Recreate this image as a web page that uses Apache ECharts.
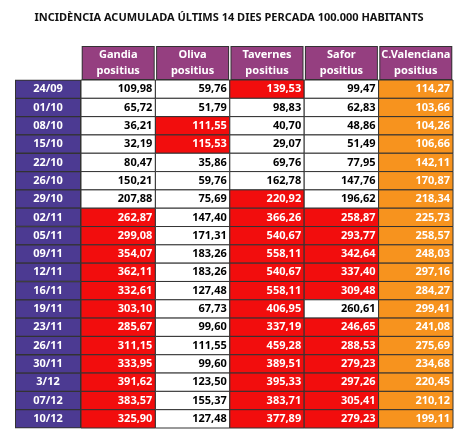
<!DOCTYPE html>
<html>
<head>
<meta charset="utf-8">
<script src="https://cdn.jsdelivr.net/npm/echarts@6/dist/echarts.min.js"></script>
<style>html,body{margin:0;padding:0;background:#fff}#main{width:463px;height:434px}</style>
</head>
<body>
<div id="main"></div>
<script>
var dates = ['24/09','01/10','08/10','15/10','22/10','26/10','29/10','02/11','05/11','09/11','12/11','16/11','19/11','23/11','26/11','30/11','3/12','07/12','10/12'];
var columns = ['Gandia\npositius','Oliva\npositius','Tavernes\npositius','Safor\npositius','C.Valenciana\npositius'];
var gandia = [109.98,65.72,36.21,32.19,80.47,150.21,207.88,262.87,299.08,354.07,362.11,332.61,303.10,285.67,311.15,333.95,391.62,383.57,325.90];
var oliva = [59.76,51.79,111.55,115.53,35.86,59.76,75.69,147.40,171.31,183.26,183.26,127.48,67.73,99.60,111.55,99.60,123.50,155.37,127.48];
var tavernes = [139.53,98.83,40.70,29.07,69.76,162.78,220.92,366.26,540.67,558.11,540.67,558.11,406.95,337.19,459.28,389.51,395.33,383.71,377.89];
var safor = [99.47,62.83,48.86,51.49,77.95,147.76,196.62,258.87,293.77,342.64,337.40,309.48,260.61,246.65,288.53,279.23,297.26,305.41,279.23];
var cval = [114.27,103.66,104.26,106.66,142.11,170.87,218.34,225.73,258.57,248.03,297.16,284.27,299.41,241.08,275.69,234.68,220.45,210.12,199.11];

var series = [gandia, oliva, tavernes, safor, cval];
var cells = [];
series.forEach(function (vals, c) {
    vals.forEach(function (v, r) {
        cells.push([c, r, v]);
    });
});

function fmt(v) {
    return v.toFixed(2).replace('.', ',');
}

var myChart = echarts.init(document.getElementById('main'));
var option = {
    animation: false,
    title: {
        text: 'INCIDÈNCIA ACUMULADA ÚLTIMS 14 DIES PERCADA 100.000 HABITANTS',
        left: 224, top: 7, textAlign: 'center',
        textStyle: {fontSize: 11, fontWeight: 'bold', color: '#111', fontFamily: 'Liberation Sans Narrow, Noto Sans'}
    },
    grid: {left: 81, right: 10, top: 80, bottom: 6},
    xAxis: {
        type: 'category', data: columns, position: 'top',
        axisLine: {show: false}, axisTick: {show: false}, splitLine: {show: false},
        axisLabel: {
            margin: 1, interval: 0,
            backgroundColor: '#953f80', color: '#fff', fontWeight: 'bold', fontSize: 11,
            fontFamily: 'Noto Sans', width: 71, height: 32, lineHeight: 16, align: 'center',
            borderColor: '#333', borderWidth: 1
        }
    },
    yAxis: {
        type: 'category', data: dates, inverse: true,
        axisLine: {show: false}, axisTick: {show: false}, splitLine: {show: false},
        axisLabel: {
            margin: 33, interval: 0,
            backgroundColor: '#4c3a92', color: '#fff', fontWeight: 'bold', fontSize: 11,
            fontFamily: 'Noto Sans', width: 64, height: 17, lineHeight: 17, align: 'center',
            borderColor: '#333', borderWidth: 1
        }
    },
    series: [{
        type: 'custom',
        data: cells,
        renderItem: function (params, api) {
            var c = api.value(0), r = api.value(1), v = api.value(2);
            var p = api.coord([c, r]);
            var s = api.size([1, 1]);
            var fill = '#ffffff', txt = '#000';
            if (c === 4) { fill = '#f7931e'; txt = '#fff'; }
            else if (v > cval[r]) { fill = '#f20d0d'; txt = '#fff'; }
            return {
                type: 'group',
                children: [{
                    type: 'rect',
                    shape: {x: p[0] - s[0] / 2, y: p[1] - s[1] / 2, width: s[0], height: s[1]},
                    style: {fill: fill, stroke: '#333', lineWidth: 1}
                }, {
                    type: 'text',
                    style: {
                        x: p[0] + s[0] / 2 - 3, y: p[1], text: fmt(v),
                        align: 'right', verticalAlign: 'middle',
                        fill: txt, font: 'bold 11px "Noto Sans"'
                    }
                }]
            };
        }
    }]
};
myChart.setOption(option);
</script>
</body>
</html>
